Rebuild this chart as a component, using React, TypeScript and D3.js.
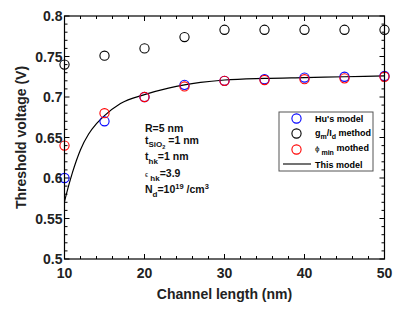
import React from "react";
import * as d3 from "d3";

const lengths = [10, 15, 20, 25, 30, 35, 40, 45, 50];
const huModel = [0.6, 0.67, 0.7, 0.715, 0.72, 0.722, 0.724, 0.725, 0.726];
const gmIdMethod = [0.74, 0.751, 0.76, 0.774, 0.783, 0.783, 0.783, 0.783, 0.783];
const phiMinMethod = [0.64, 0.68, 0.7, 0.713, 0.72, 0.721, 0.722, 0.723, 0.725];

const curveX = [10, 10.5, 11, 11.5, 12, 13, 14, 15, 17, 20, 23, 25, 27, 30, 35, 40, 45, 50];
const curveY = [0.571, 0.59, 0.607, 0.622, 0.635, 0.654, 0.667, 0.677, 0.692, 0.703, 0.711, 0.715, 0.718, 0.721, 0.723, 0.724, 0.725, 0.726];

const xTicks = [10, 20, 30, 40, 50];
const yTicks = [0.5, 0.55, 0.6, 0.65, 0.7, 0.75, 0.8];
const yTickLabels = ["0.5", "0.55", "0.6", "0.65", "0.7", "0.75", "0.8"];

const W = 405, H = 309;
const L = 64.5, R = 384.5, T = 16, B = 259;
const font = "'Liberation Sans', Arial, sans-serif";

export default function App() {
  const x = d3.scaleLinear().domain([10, 50]).range([L, R]);
  const y = d3.scaleLinear().domain([0.5, 0.8]).range([B, T]);
  const line = d3
    .line<number>()
    .x((_, i) => x(curveX[i]))
    .y((d) => y(d))
    .curve(d3.curveMonotoneX);

  const xMinor = d3.range(10, 50.001, 2);
  const yMinor = d3.range(0.5, 0.8001, 0.01);

  const series = [
    { vals: huModel, color: "#0000ff" },
    { vals: gmIdMethod, color: "#000000" },
    { vals: phiMinMethod, color: "#ff0000" },
  ];

  const lgX = 279, lgY = 112, lgW = 94, lgH = 59;
  const symX = 296.5, txtX = 315;
  const ax = 145;

  return (
    <svg width={W} height={H} style={{ position: "absolute", left: 0, top: 0 }} fontFamily={font}>
      <rect width={W} height={H} fill="#fff" />
      <defs>
        <clipPath id="plot">
          <rect x={L} y={T} width={R - L} height={B - T} />
        </clipPath>
      </defs>
      {/* ticks */}
      <g stroke="#000" strokeWidth={1}>
        {xMinor.map((v) => {
          const major = xTicks.some((t) => Math.abs(t - v) < 1e-6);
          const len = major ? 5 : 3;
          return (
            <g key={"xm" + v}>
              <line x1={x(v)} x2={x(v)} y1={B} y2={B - len} />
              <line x1={x(v)} x2={x(v)} y1={T} y2={T + len} />
            </g>
          );
        })}
        {yMinor.map((v) => {
          const major = yTicks.some((t) => Math.abs(t - v) < 1e-6);
          const len = major ? 5 : 3;
          return (
            <g key={"ym" + v.toFixed(3)}>
              <line x1={L} x2={L + len} y1={y(v)} y2={y(v)} />
              <line x1={R} x2={R - len} y1={y(v)} y2={y(v)} />
            </g>
          );
        })}
      </g>
      {/* curve */}
      <path d={line(curveY) || ""} fill="none" stroke="#000" strokeWidth={1.2} clipPath="url(#plot)" />
      {/* markers */}
      {series.map((s, si) =>
        s.vals.map((v, i) => (
          <circle
            key={si + "-" + i}
            cx={x(lengths[i])}
            cy={y(v)}
            r={4.6}
            fill="none"
            stroke={s.color}
            strokeWidth={1.1}
          />
        ))
      )}
      {/* frame */}
      <rect x={L} y={T} width={R - L} height={B - T} fill="none" stroke="#000" strokeWidth={1.2} />
      {/* tick labels */}
      <g fontSize={14} fontWeight="bold" fill="#222">
        {xTicks.map((v) => (
          <text key={"xt" + v} x={x(v)} y={278} textAnchor="middle">
            {v}
          </text>
        ))}
        {yTicks.map((v, i) => (
          <text key={"yt" + v} x={L - 2} y={y(v) + 5} textAnchor="end">
            {yTickLabels[i]}
          </text>
        ))}
      </g>
      {/* axis titles */}
      <text x={(L + R) / 2} y={299} textAnchor="middle" fontSize={14} fontWeight="bold" fill="#222">
        Channel length (nm)
      </text>
      <text
        transform={`translate(26,${(T + B) / 2}) rotate(-90)`}
        textAnchor="middle"
        fontSize={14}
        fontWeight="bold"
        fill="#222"
      >
        Threshold voltage (V)
      </text>
      {/* annotation */}
      <g fontSize={10.5} fontWeight="bold" fill="#111">
        <text x={ax} y={132}>R=5 nm</text>
        <text x={ax} y={143.5}>
          t<tspan fontSize={8} dy={3.5}>SiO</tspan>
          <tspan fontSize={5.5} dy={2}>2</tspan>
          <tspan dy={-5.5}> =1 nm</tspan>
        </text>
        <text x={ax} y={160}>
          t<tspan fontSize={8} dy={4}>hk</tspan>
          <tspan dy={-4}>=1 nm</tspan>
        </text>
        <text x={ax} y={177}>
          <tspan fontSize={7} fontWeight="normal">ϵ</tspan>
          <tspan fontSize={8} dy={4}> hk</tspan>
          <tspan dy={-4}>=3.9</tspan>
        </text>
        <text x={ax} y={193}>
          N<tspan fontSize={8} dy={4}>d</tspan>
          <tspan dy={-4}>=10</tspan>
          <tspan fontSize={7.5} dy={-4}>19</tspan>
          <tspan dy={4}> /cm</tspan>
          <tspan fontSize={7.5} dy={-4}>3</tspan>
        </text>
      </g>
      {/* legend */}
      <rect x={lgX} y={lgY} width={lgW} height={lgH} fill="#fff" stroke="#555" strokeWidth={1} />
      <g fontSize={9} fontWeight="bold" fill="#000">
        <circle cx={symX} cy={118.5} r={4.6} fill="none" stroke="#0000ff" strokeWidth={1.1} />
        <text x={txtX} y={121.5}>Hu's model</text>
        <circle cx={symX} cy={133.5} r={4.6} fill="none" stroke="#000" strokeWidth={1.1} />
        <text x={txtX} y={136}>
          g<tspan fontSize={7} dy={3}>m</tspan>
          <tspan dy={-3}>/I</tspan>
          <tspan fontSize={7} dy={3}>d</tspan>
          <tspan dy={-3}> method</tspan>
        </text>
        <circle cx={symX} cy={149.5} r={4.6} fill="none" stroke="#ff0000" strokeWidth={1.1} />
        <text x={txtX} y={151}>
          <tspan fontWeight="normal" fontSize={8}>ϕ</tspan>
          <tspan fontSize={7} dy={4}> min</tspan>
          <tspan dy={-4}> mothed</tspan>
        </text>
        <line x1={283} x2={311} y1={164} y2={164} stroke="#444" strokeWidth={1.5} />
        <text x={txtX} y={167.5}>This model</text>
      </g>
    </svg>
  );
}
